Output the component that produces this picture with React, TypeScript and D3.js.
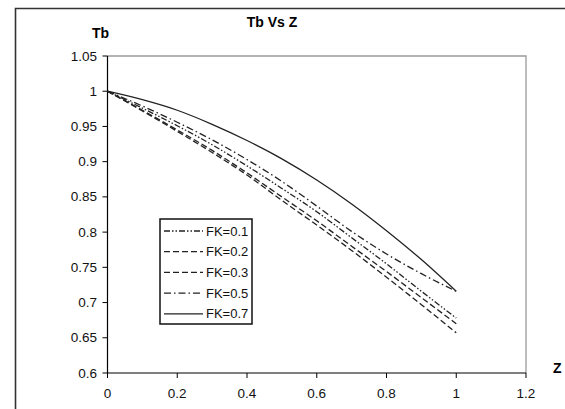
import React from 'react';
import * as d3 from 'd3';

const width = 565;
const height = 409;

// z positions shared by all series
const zValues = [0, 0.1, 0.2, 0.3, 0.4, 0.5, 0.6, 0.7, 0.8, 0.9, 1];

// Tb, one array per FK
const fk01 = [1, 0.976, 0.951, 0.924, 0.894, 0.862, 0.829, 0.792, 0.755, 0.716, 0.678];
const fk02 = [1, 0.973, 0.945, 0.916, 0.884, 0.850, 0.816, 0.780, 0.744, 0.707, 0.670];
const fk03 = [1, 0.972, 0.943, 0.913, 0.881, 0.845, 0.810, 0.774, 0.736, 0.697, 0.657];
const fk05 = [1, 0.979, 0.956, 0.931, 0.903, 0.872, 0.837, 0.801, 0.769, 0.741, 0.716];
const fk07 = [1, 0.988, 0.973, 0.953, 0.930, 0.904, 0.874, 0.840, 0.802, 0.761, 0.716];

const seriesLabels = ['FK=0.1', 'FK=0.2', 'FK=0.3', 'FK=0.5', 'FK=0.7'];
const seriesValues = [fk01, fk02, fk03, fk05, fk07];
const dashes = ['6,2,1.5,2,1.5,2', '6,3', '6,3', '7,3,1.5,3', ''];

const xTicks = [0, 0.2, 0.4, 0.6, 0.8, 1, 1.2];
const yTicks = [0.6, 0.65, 0.7, 0.75, 0.8, 0.85, 0.9, 0.95, 1, 1.05];

const FONT = '"Liberation Sans", Arial, sans-serif';

const App = () => {
  const x = d3.scaleLinear().domain([0, 1.2]).range([107.5, 526]);
  const y = d3.scaleLinear().domain([0.6, 1.05]).range([373, 56]);

  const line = d3.line<[number, number]>()
    .x(d => x(d[0]))
    .y(d => y(d[1]))
    .curve(d3.curveMonotoneX);

  const legX = 160, legY = 219;

  return (
    <svg width={width} height={height} style={{display: 'block', position: 'absolute', left: 0, top: 0}}>
      <rect x={0} y={0} width={width} height={height} fill="#fff" />
      {/* outer chart frame */}
      <path d={`M15.5,${height} V8.5 H${width}`} fill="none" stroke="#333" strokeWidth={1.6} />

      {/* plot area frame: gray top/right */}
      <path d={`M${x(0)},${y(1.05)} H${x(1.2)} V${y(0.6)}`} fill="none" stroke="#9a9a9a" strokeWidth={1.3} />

      {/* axes */}
      <line x1={x(0)} x2={x(0)} y1={y(1.05)} y2={y(0.6)} stroke="#000" strokeWidth={1.2} />
      <line x1={x(0)} x2={x(1.2)} y1={y(0.6)} y2={y(0.6)} stroke="#000" strokeWidth={1.2} />

      {yTicks.map(t => (
        <g key={'y' + t}>
          <line x1={x(0) - 5} x2={x(0)} y1={y(t)} y2={y(t)} stroke="#000" strokeWidth={1} />
          <text x={97} y={y(t) + 4.5} textAnchor="end" fontFamily={FONT} fontSize={13.5} fill="#111">{String(t)}</text>
        </g>
      ))}
      {xTicks.map(t => (
        <g key={'x' + t}>
          <line x1={x(t)} x2={x(t)} y1={y(0.6)} y2={y(0.6) + 5} stroke="#000" strokeWidth={1} />
          <text x={x(t)} y={398} textAnchor="middle" fontFamily={FONT} fontSize={13.5} fill="#111">{String(t)}</text>
        </g>
      ))}

      {/* curves */}
      {seriesValues.map((vals, i) => (
        <path key={seriesLabels[i]}
          d={line(zValues.map((z, j) => [z, vals[j]] as [number, number])) || ''}
          fill="none" stroke="#222" strokeWidth={1.3}
          strokeDasharray={dashes[i] || undefined} />
      ))}

      {/* titles */}
      <text x={272} y={27} textAnchor="middle" fontFamily={FONT} fontSize={14} fontWeight="bold">Tb Vs Z</text>
      <text x={92} y={38} fontFamily={FONT} fontSize={14} fontWeight="bold">Tb</text>
      <text x={553} y={373} fontFamily={FONT} fontSize={14} fontWeight="bold">Z</text>

      {/* legend */}
      <rect x={legX} y={legY} width={92} height={105} fill="#fff" stroke="#111" strokeWidth={1.5} />
      {seriesLabels.map((lab, i) => {
        const ly = 231 + i * 20.7;
        return (
          <g key={'leg' + lab}>
            <line x1={164} x2={203} y1={ly} y2={ly} stroke="#222" strokeWidth={1.3}
              strokeDasharray={dashes[i] || undefined} />
            <text x={206} y={ly + 4.5} fontFamily={FONT} fontSize={13} fill="#111">{lab}</text>
          </g>
        );
      })}
    </svg>
  );
};

export default App;
